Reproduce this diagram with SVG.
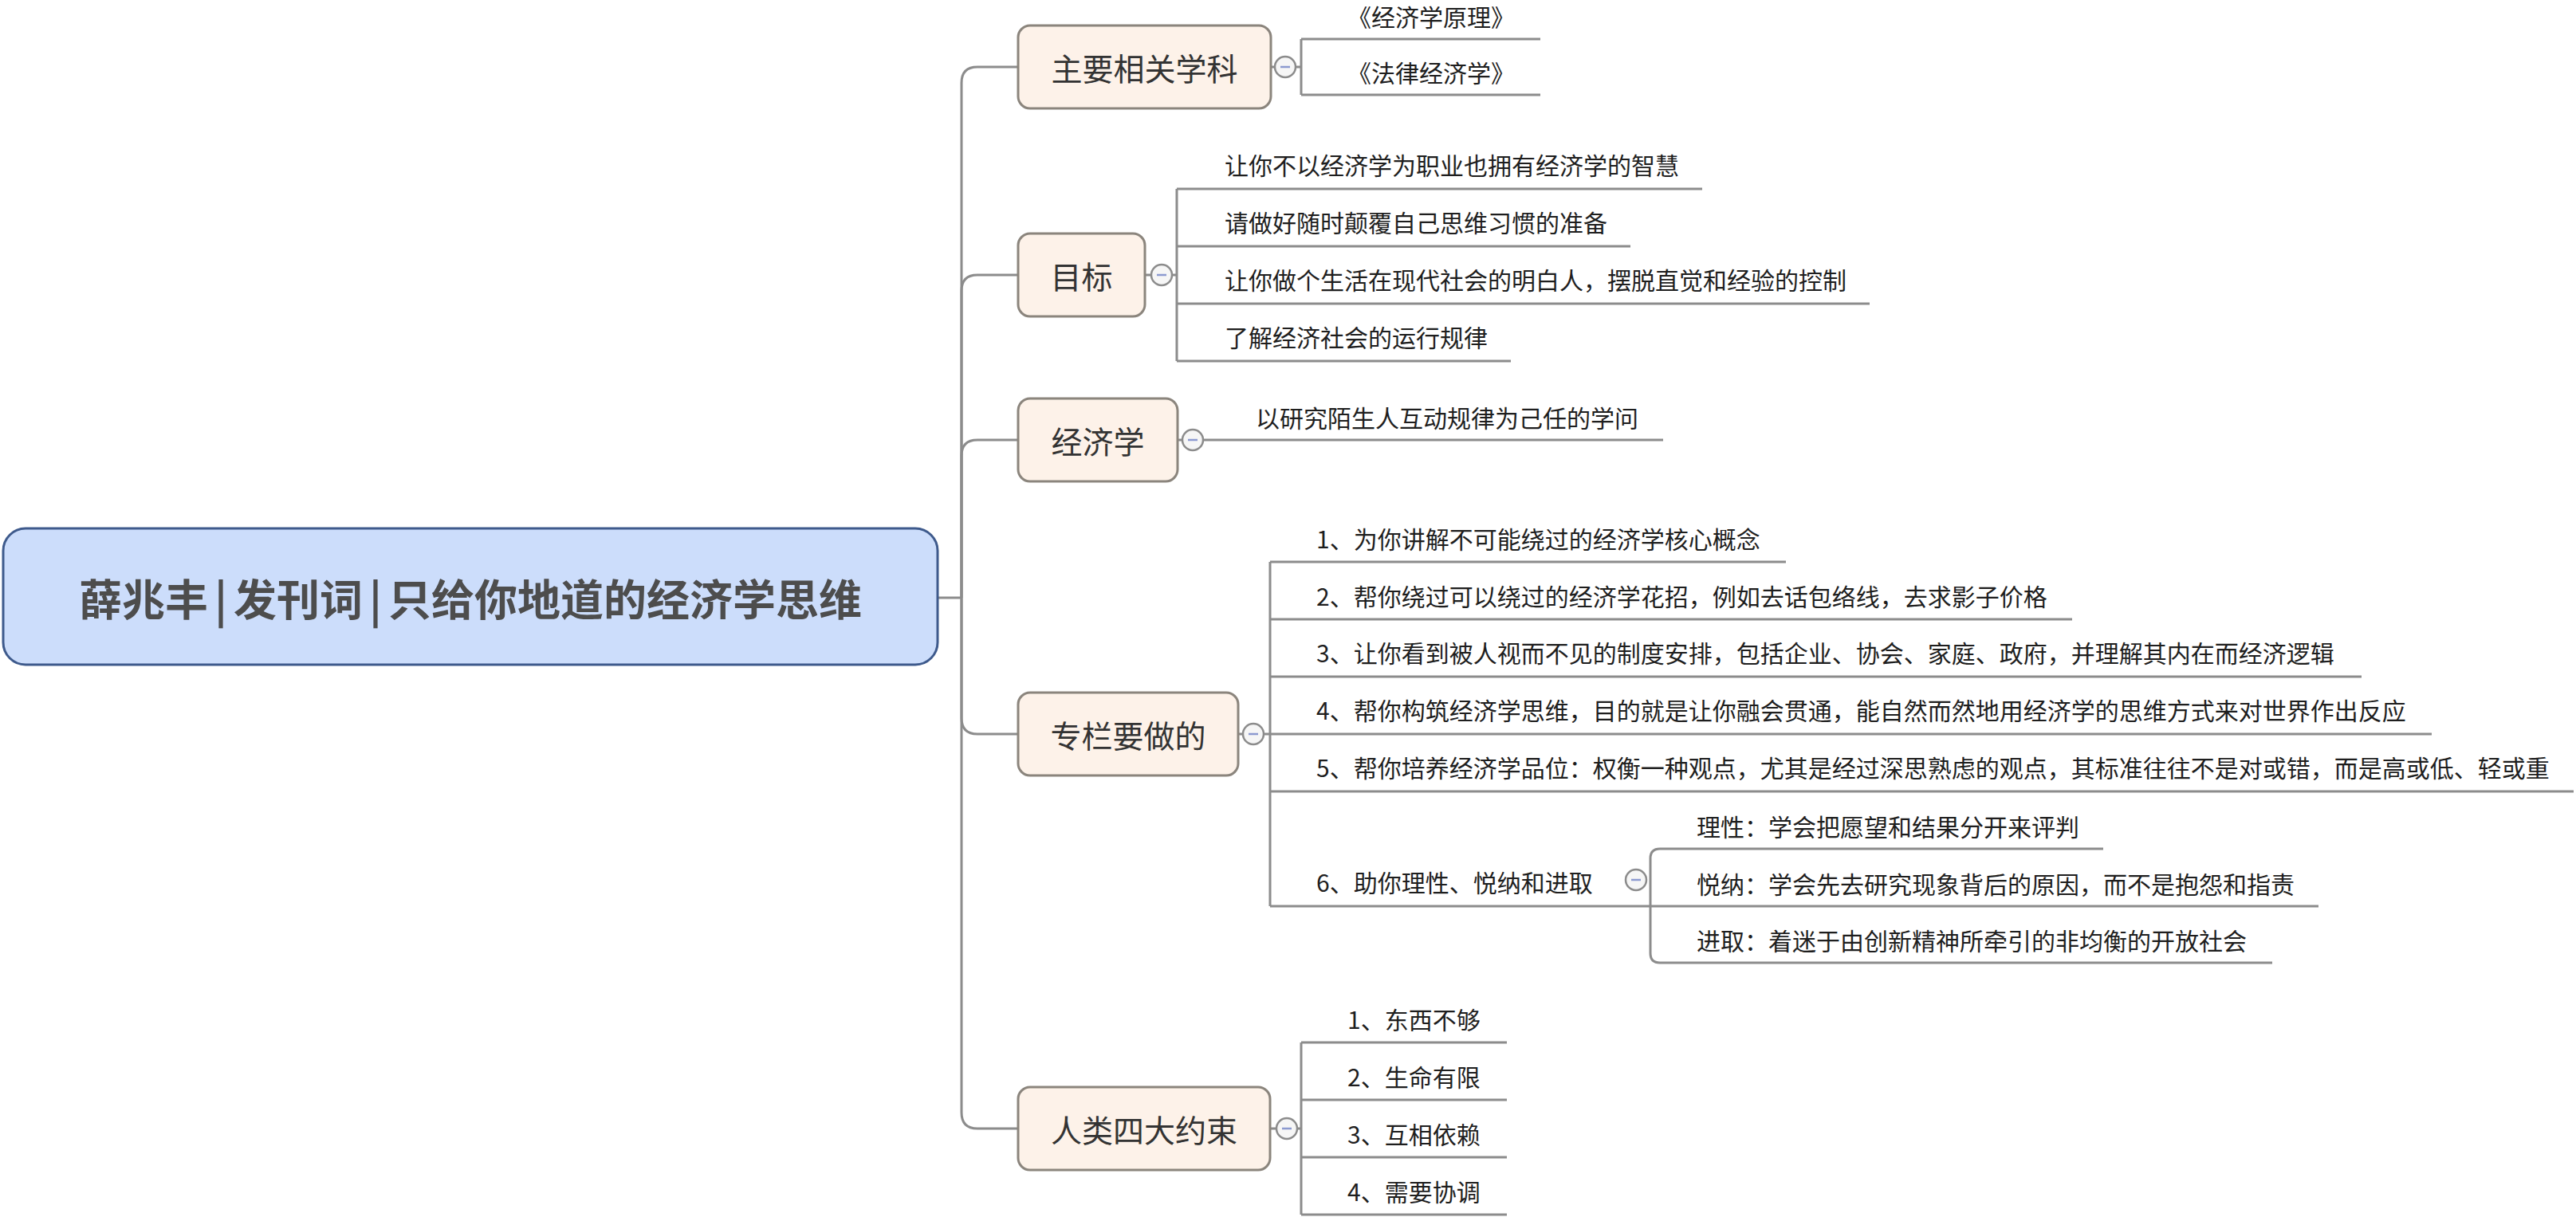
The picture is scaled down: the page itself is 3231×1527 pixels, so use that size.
<svg xmlns="http://www.w3.org/2000/svg" xmlns:xlink="http://www.w3.org/1999/xlink" width="3231" height="1527" viewBox="0 0 3231 1527">
  <style>
    text { font-family: "Noto Sans CJK SC", "Noto Sans", sans-serif; dominant-baseline: central; }
    .root-box { fill: #ccddfb; stroke: #3e5a8c; stroke-width: 3; }
    .root-txt { font-size: 54px; font-weight: bold; fill: #4d4d4d; text-anchor: middle; }
    .topic { fill: #fdf2e9; stroke: #8b857d; stroke-width: 3; }
    .ttl { font-size: 39px; fill: #333333; text-anchor: middle; }
    .sub { font-size: 30px; fill: #1e1e1e; }
    .ln { fill: none; stroke: #8c8c8c; stroke-width: 3; }
    .btn-c { fill: #f6f6f6; stroke: #8c8c8c; stroke-width: 2.5; }
    .btn-m { stroke: #8c9ad0; stroke-width: 2.5; }
  </style>
  <defs>
    <!-- collapse toggle ("minus" button) -->
    <g id="toggle">
      <circle class="btn-c" cx="0" cy="0" r="13"/>
      <line class="btn-m" x1="-6" y1="0" x2="6" y2="0"/>
    </g>
  </defs>

  <rect width="3231" height="1527" fill="#ffffff"/>

  <!-- connectors -->
  <g id="connectors">
    <!-- root to trunk and trunk to main topics -->
    <path class="ln" d="M1176 750 H1206"/>
    <path class="ln" d="M1206 750 V104 Q1206 84 1226 84 H1277"/>
    <path class="ln" d="M1206 750 V365 Q1206 345 1226 345 H1277"/>
    <path class="ln" d="M1206 750 V572 Q1206 552 1226 552 H1277"/>
    <path class="ln" d="M1206 750 V901 Q1206 921 1226 921 H1277"/>
    <path class="ln" d="M1206 750 V1396 Q1206 1416 1226 1416 H1277"/>

    <!-- node to toggle stubs -->
    <path class="ln" d="M1594 84 H1599 M1625 84 H1632"/>
    <path class="ln" d="M1436 345 H1444 M1470 345 H1476"/>
    <path class="ln" d="M1477 552 H1483"/>
    <path class="ln" d="M1553 921 H1559 M1585 921 H1593"/>
    <path class="ln" d="M1593 1416 H1601 M1627 1416 H1632"/>

    <!-- 主要相关学科 children -->
    <path class="ln" d="M1632 49 V119 M1632 49 H1932 M1632 119 H1932"/>

    <!-- 目标 children -->
    <path class="ln" d="M1476 237 V453 M1476 237 H2135 M1476 309 H2045 M1476 381 H2345 M1476 453 H1895"/>

    <!-- 经济学 child -->
    <path class="ln" d="M1509 552 H2086"/>

    <!-- 专栏要做的 children -->
    <path class="ln" d="M1593 705 V1137 M1593 705 H2240 M1593 777 H2599 M1593 849 H2962 M1593 921 H3050 M1593 993 H3228 M1593 1137 H2070"/>

    <!-- item 6 children -->
    <path class="ln" d="M2082 1065 Q2070 1065 2070 1077 V1196 Q2070 1208 2082 1208 H2850 M2082 1065 H2638 M2070 1137 H2908"/>

    <!-- 人类四大约束 children -->
    <path class="ln" d="M1632 1308 V1524 M1632 1308 H1890 M1632 1380 H1890 M1632 1452 H1890 M1632 1524 H1890"/>
  </g>

  <!-- central topic -->
  <g id="root">
    <rect class="root-box" x="4" y="663" width="1172" height="171" rx="28"/>
    <text class="root-txt" x="590" y="749">薛兆丰<tspan dx="8">|</tspan><tspan dx="8">发刊词</tspan><tspan dx="8">|</tspan><tspan dx="8">只给你地道的经济学思维</tspan></text>
  </g>

  <!-- main topics -->
  <g id="topic-subjects">
    <rect class="topic" x="1277" y="32" width="317" height="104" rx="15"/>
    <text class="ttl" x="1435.5" y="84">主要相关学科</text>
    <use xlink:href="#toggle" x="1612" y="84"/>
  </g>
  <g id="topic-goal">
    <rect class="topic" x="1277" y="293" width="159" height="104" rx="15"/>
    <text class="ttl" x="1356.5" y="345">目标</text>
    <use xlink:href="#toggle" x="1457" y="345"/>
  </g>
  <g id="topic-economics">
    <rect class="topic" x="1277" y="500" width="200" height="104" rx="15"/>
    <text class="ttl" x="1377" y="552">经济学</text>
    <use xlink:href="#toggle" x="1496" y="552"/>
  </g>
  <g id="topic-column">
    <rect class="topic" x="1277" y="869" width="276" height="104" rx="15"/>
    <text class="ttl" x="1415" y="921">专栏要做的</text>
    <use xlink:href="#toggle" x="1572" y="921"/>
  </g>
  <g id="topic-constraints">
    <rect class="topic" x="1277" y="1364" width="316" height="104" rx="15"/>
    <text class="ttl" x="1435" y="1416">人类四大约束</text>
    <use xlink:href="#toggle" x="1614" y="1416"/>
  </g>

  <!-- subtopics: 主要相关学科 -->
  <g id="sub-subjects">
    <text class="sub" x="1690" y="20">《经济学原理》</text>
    <text class="sub" x="1690" y="90">《法律经济学》</text>
  </g>

  <!-- subtopics: 目标 -->
  <g id="sub-goal">
    <text class="sub" x="1536" y="206">让你不以经济学为职业也拥有经济学的智慧</text>
    <text class="sub" x="1536" y="278">请做好随时颠覆自己思维习惯的准备</text>
    <text class="sub" x="1536" y="350">让你做个生活在现代社会的明白人，摆脱直觉和经验的控制</text>
    <text class="sub" x="1536" y="422">了解经济社会的运行规律</text>
  </g>

  <!-- subtopics: 经济学 -->
  <g id="sub-economics">
    <text class="sub" x="1575" y="523">以研究陌生人互动规律为己任的学问</text>
  </g>

  <!-- subtopics: 专栏要做的 -->
  <g id="sub-column">
    <text class="sub" x="1651" y="675">1、为你讲解不可能绕过的经济学核心概念</text>
    <text class="sub" x="1651" y="747">2、帮你绕过可以绕过的经济学花招，例如去话包络线，去求影子价格</text>
    <text class="sub" x="1651" y="818">3、让你看到被人视而不见的制度安排，包括企业、协会、家庭、政府，并理解其内在而经济逻辑</text>
    <text class="sub" x="1651" y="890">4、帮你构筑经济学思维，目的就是让你融会贯通，能自然而然地用经济学的思维方式来对世界作出反应</text>
    <text class="sub" x="1651" y="962">5、帮你培养经济学品位：权衡一种观点，尤其是经过深思熟虑的观点，其标准往往不是对或错，而是高或低、轻或重</text>
  </g>
  <g id="sub-column-6">
    <text class="sub" x="1651" y="1106">6、助你理性、悦纳和进取</text>
    <use xlink:href="#toggle" x="2052" y="1104"/>
    <text class="sub" x="2128" y="1036">理性：学会把愿望和结果分开来评判</text>
    <text class="sub" x="2128" y="1108">悦纳：学会先去研究现象背后的原因，而不是抱怨和指责</text>
    <text class="sub" x="2128" y="1179">进取：着迷于由创新精神所牵引的非均衡的开放社会</text>
  </g>

  <!-- subtopics: 人类四大约束 -->
  <g id="sub-constraints">
    <text class="sub" x="1690" y="1278">1、东西不够</text>
    <text class="sub" x="1690" y="1350">2、生命有限</text>
    <text class="sub" x="1690" y="1422">3、互相依赖</text>
    <text class="sub" x="1690" y="1494">4、需要协调</text>
  </g>
</svg>
